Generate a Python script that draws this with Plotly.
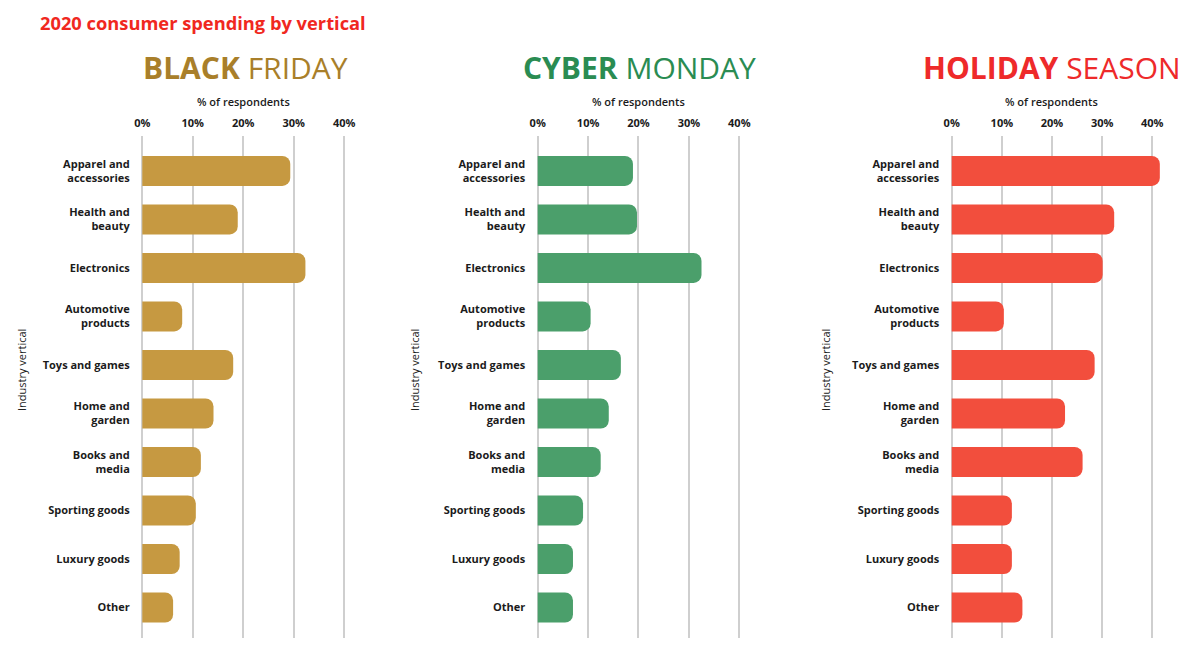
import plotly.graph_objects as go

# ---------------- data ----------------
categories = ["Apparel and<br>accessories", "Health and<br>beauty", "Electronics",
              "Automotive<br>products", "Toys and games", "Home and<br>garden",
              "Books and<br>media", "Sporting goods", "Luxury goods", "Other"]
black_friday = [29.3, 18.9, 32.3, 7.9, 18.0, 14.1, 11.6, 10.6, 7.4, 6.1]
cyber_monday = [18.9, 19.7, 32.5, 10.5, 16.5, 14.1, 12.5, 9.0, 7.0, 7.0]
holiday_season = [41.5, 32.4, 30.1, 10.4, 28.5, 22.6, 26.1, 12.0, 12.0, 14.1]
x_ticks = [0, 10, 20, 30, 40]
x_tick_labels = ["0%", "10%", "20%", "30%", "40%"]
panel_titles = [("BLACK", "FRIDAY"), ("CYBER", "MONDAY"), ("HOLIDAY", "SEASON")]
main_title = "2020 consumer spending by vertical"
x_title = "% of respondents"
y_title = "Industry vertical"

# ---------------- layout geometry (pixels) ----------------
W, H = 1200, 662
FONT = "Open Sans"
TXT = "#1b1b1b"
GRID = "#cfcfcf"
bar_colors = ["#C69941", "#4B9F6B", "#F24E3D"]
title_colors = ["#A97F2A", "#2A8C52", "#EE2A2A"]
x_zero_px = [142.3, 537.7, 951.7]
px_per_unit = [5.05, 5.04, 5.015]
title_cx = [245, 639, 1052]
ylab_x = [21, 414, 825]
x_lo, x_hi = -0.3, 42.0
plot_top, plot_bot = 136, 638
y_range = [9.63, -0.72]

series = [black_friday, cyber_monday, holiday_season]

fig = go.Figure()
annotations = []
for i, vals in enumerate(series):
    ax = "" if i == 0 else str(i + 1)
    x0 = x_zero_px[i] + x_lo * px_per_unit[i]
    x1 = x_zero_px[i] + x_hi * px_per_unit[i]
    fig.add_trace(go.Bar(
        x=vals, y=categories, orientation="h",
        xaxis="x" + ax, yaxis="y" + ax,
        marker=dict(color=bar_colors[i], cornerradius=8, line=dict(width=0)),
        width=0.62, showlegend=False, hoverinfo="x+y",
    ))
    fig.update_layout(**{
        "xaxis" + ax: dict(
            domain=[x0 / W, x1 / W], anchor="y" + ax, side="top",
            range=[x_lo, x_hi], tickvals=x_ticks, ticktext=x_tick_labels,
            showgrid=True, gridcolor=GRID, gridwidth=1.5,
            zeroline=True, zerolinecolor=GRID, zerolinewidth=1.5,
            showline=False, ticks="", automargin=False,
            ticklabelstandoff=6,
            tickfont=dict(family=FONT, size=11, color=TXT, weight=700),
            fixedrange=True,
        ),
        "yaxis" + ax: dict(
            domain=[1 - plot_bot / H, 1 - plot_top / H], anchor="x" + ax,
            type="category", categoryarray=categories, range=y_range,
            showgrid=False, zeroline=False, showline=False, ticks="",
            ticklabelstandoff=10, automargin=False,
            tickfont=dict(family=FONT, size=11, color=TXT, weight=700),
            fixedrange=True,
        ),
    })
    # x-axis title
    annotations.append(dict(
        text=x_title, xref="x" + ax, yref="paper", x=20, y=1 - 102 / H,
        showarrow=False, xanchor="center", yanchor="middle",
        font=dict(family=FONT, size=11, color=TXT, weight=600),
    ))
    # y-axis title
    annotations.append(dict(
        text=y_title, xref="paper", yref="paper", x=ylab_x[i] / W, y=1 - 370 / H,
        showarrow=False, textangle=-90, xanchor="center", yanchor="middle",
        font=dict(family=FONT, size=11, color=TXT, weight=500),
    ))
    # panel title
    bold, rest = panel_titles[i]
    annotations.append(dict(
        text=f"<b>{bold}</b> {rest}", xref="paper", yref="paper",
        x=title_cx[i] / W, y=1 - 67 / H, showarrow=False,
        xanchor="center", yanchor="middle",
        font=dict(family=FONT, size=30, color=title_colors[i]),
    ))

annotations.append(dict(
    text=f"<b>{main_title}</b>", xref="paper", yref="paper",
    x=38 / W, y=1 - 22 / H, showarrow=False, xanchor="left", yanchor="middle",
    font=dict(family=FONT, size=18.3, color="#F0281F"),
))

fig.update_layout(
    width=W, height=H, margin=dict(l=0, r=0, t=0, b=0),
    paper_bgcolor="white", plot_bgcolor="white",
    barmode="overlay", annotations=annotations, showlegend=False,
)

fig.write_html("out.html", config={"displayModeBar": False})
